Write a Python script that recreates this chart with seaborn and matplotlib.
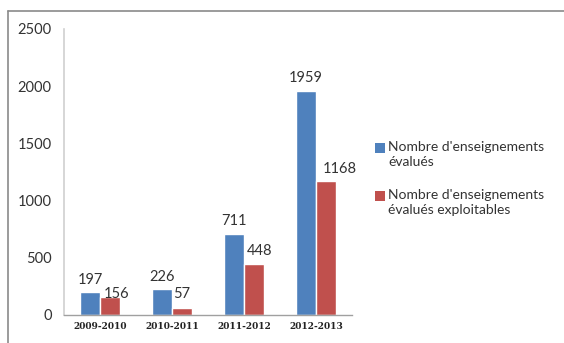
import matplotlib
matplotlib.use("Agg")
import matplotlib.pyplot as plt
import seaborn as sns
import pandas as pd
from matplotlib.lines import Line2D
from matplotlib.patches import Rectangle

categories = ["2009-2010", "2010-2011", "2011-2012", "2012-2013"]
series_names = ["Nombre d'enseignements\névalués", "Nombre d'enseignements\névalués exploitables"]
evalues = [197, 226, 711, 1959]
exploitables = [156, 57, 448, 1168]
yticks = [0, 500, 1000, 1500, 2000, 2500]
colors = ["#4F81BD", "#C0504D"]
# label offsets (points) relative to bar top centre, per series: (dx, dy)
label_offsets = [[(0, 4), (0, 4), (0, 4), (0, 4)],
                 [(4.5, -2.5), (0, 5.5), (4, 4), (10, 4)]]

df = pd.DataFrame({
    "annee": categories * 2,
    "valeur": evalues + exploitables,
    "serie": [series_names[0]] * 4 + [series_names[1]] * 4,
})

sns.set_style("white")
plt.rcParams['font.family'] = ['Lato', 'DejaVu Sans']

W, H = 564, 343
fig = plt.figure(figsize=(W/100, H/100), dpi=100)
ax = fig.add_axes([64/W, 1 - 315/H, 288/W, 286/H])

sns.barplot(data=df, x="annee", y="valeur", hue="serie", palette=colors,
            width=0.556, saturation=1, ax=ax, legend=False)

for cont, offs in zip(ax.containers, label_offsets):
    for bar, off in zip(cont.patches, offs):
        ax.annotate(f"{int(round(bar.get_height()))}",
                    (bar.get_x() + bar.get_width() / 2, bar.get_height()),
                    xytext=off, textcoords="offset points",
                    ha="center", va="bottom", fontsize=10.5, color="#333333")

ax.set_xlim(-0.5, 3.5)
ax.set_ylim(0, 2500)
ax.set_yticks(yticks)
ax.set_yticklabels([str(v) for v in yticks], fontsize=10.5, color="#333333")
ax.set_xticks(range(len(categories)))
ax.set_xticklabels(categories, fontsize=6.5, fontweight="bold", family="DejaVu Serif", color="#222222")
ax.tick_params(axis="y", pad=9, length=0)
ax.tick_params(axis="x", pad=5, length=0)
ax.set_xlabel("")
ax.set_ylabel("")
for s in ["top", "right"]:
    ax.spines[s].set_visible(False)
ax.spines["left"].set_color("#D0D0D0")
ax.spines["bottom"].set_color("#A0A0A0")
ax.spines["left"].set_linewidth(1.2)
ax.spines["bottom"].set_linewidth(1.0)

# legend, drawn manually so the swatch sits on the first text line
legend_tops = [141, 189]
for name, c, top in zip(series_names, colors, legend_tops):
    fig.add_artist(Rectangle((375/W, 1 - (top + 12)/H), 10/W, 10/H,
                             facecolor=c, edgecolor="none", transform=fig.transFigure))
    fig.text(388/W, 1 - top/H, name, ha="left", va="top", fontsize=10,
             color="#333333", linespacing=1.3)

# outer frame
fig.add_artist(Line2D([8/W, 1], [1 - 11/H, 1 - 11/H], color="#8a8a8a", lw=1.2, transform=fig.transFigure))
fig.add_artist(Line2D([8/W, 8/W], [0, 1 - 11/H], color="#8a8a8a", lw=1.2, transform=fig.transFigure))

fig.savefig("out.png", dpi=100)
